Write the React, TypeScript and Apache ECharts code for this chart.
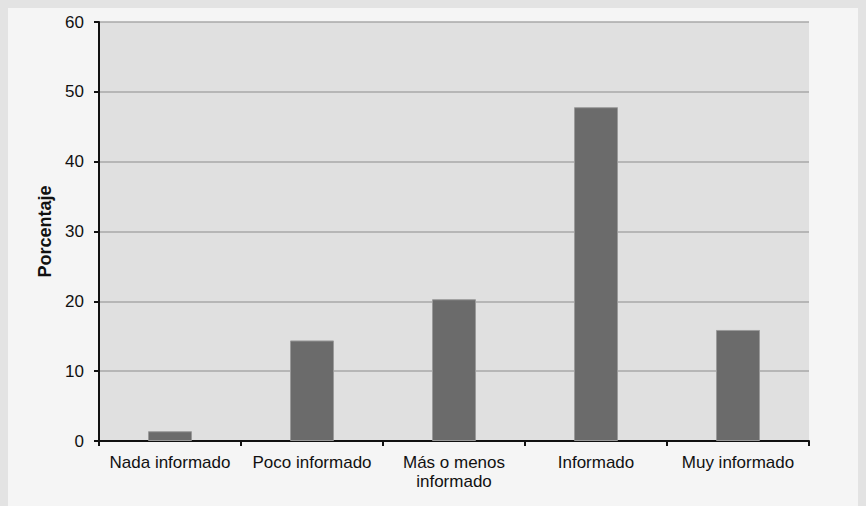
import React, { useEffect, useRef } from "react";
import * as echarts from "echarts";

const categories = [
  "Nada informado",
  "Poco informado",
  "Más o menos\ninformado",
  "Informado",
  "Muy informado",
];
const values = [1.4, 14.4, 20.3, 47.8, 15.9];
const yTitle = "Porcentaje";

export default function App() {
  const ref = useRef<HTMLDivElement>(null);
  useEffect(() => {
    document.body.style.background = "#e3e3e3";
    const chart = echarts.init(ref.current!, null, { renderer: "svg" });
    chart.setOption({
      animation: false,
      backgroundColor: "#f5f5f5",
      textStyle: { fontFamily: "Liberation Sans, Arial, sans-serif" },
      grid: {
        left: 91,
        right: 57,
        top: 14,
        bottom: 65,
        show: true,
        backgroundColor: "#e0e0e0",
        borderWidth: 0,
      },
      xAxis: {
        type: "category",
        data: categories,
        axisLine: { show: true, lineStyle: { color: "#111", width: 2 } },
        axisTick: {
          show: true,
          alignWithLabel: false,
          length: 5,
          lineStyle: { color: "#111", width: 2 },
        },
        axisLabel: {
          color: "#111",
          fontSize: 17,
          lineHeight: 19,
          margin: 12,
          interval: 0,
        },
        splitLine: { show: false },
      },
      yAxis: {
        type: "value",
        min: 0,
        max: 60,
        interval: 10,
        name: yTitle,
        nameLocation: "middle",
        nameGap: 45,
        nameTextStyle: { color: "#111", fontSize: 18, fontWeight: "bold" },
        axisLine: { show: true, lineStyle: { color: "#111", width: 2 } },
        axisTick: { show: true, length: 5, lineStyle: { color: "#111", width: 2 } },
        axisLabel: { color: "#111", fontSize: 17, margin: 15 },
        splitLine: { show: true, lineStyle: { color: "#a9a9a9", width: 1.5 } },
      },
      series: [
        {
          type: "bar",
          data: values,
          barWidth: 44,
          itemStyle: { color: "#6b6b6b", borderColor: "#9a9a9a", borderWidth: 1 },
        },
      ],
    });
    return () => chart.dispose();
  }, []);
  return <div ref={ref} style={{ width: 858, height: 498 }} />;
}
